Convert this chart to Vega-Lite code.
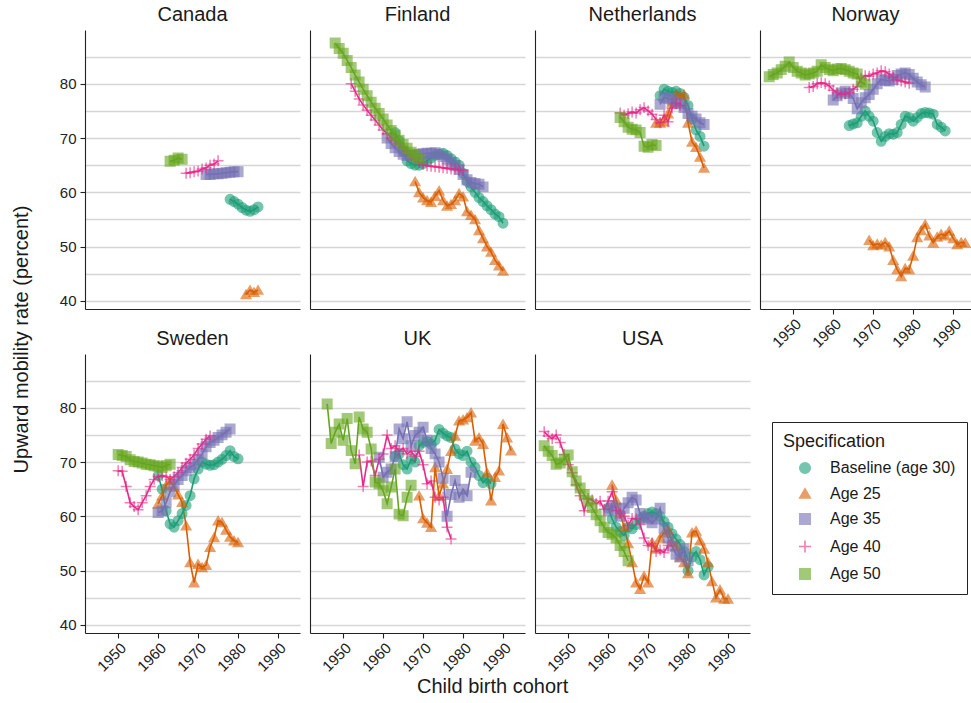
{
"$schema": "https://vega.github.io/schema/vega-lite/v6.json",
"padding": {"left": 12, "top": 5, "right": 0, "bottom": 0},
"title": {"text": "Child birth cohort", "orient": "bottom", "anchor": "middle", "fontSize": 20, "fontWeight": "normal", "color": "#1a1a1a", "offset": 3},
"data": {"values": [
{"country":"Canada","spec":"Baseline (age 30)","year":1978,"rate":58.7},
{"country":"Canada","spec":"Baseline (age 30)","year":1979,"rate":58.3},
{"country":"Canada","spec":"Baseline (age 30)","year":1980,"rate":57.8},
{"country":"Canada","spec":"Baseline (age 30)","year":1981,"rate":57.2},
{"country":"Canada","spec":"Baseline (age 30)","year":1982,"rate":56.7},
{"country":"Canada","spec":"Baseline (age 30)","year":1983,"rate":56.5},
{"country":"Canada","spec":"Baseline (age 30)","year":1984,"rate":56.8},
{"country":"Canada","spec":"Baseline (age 30)","year":1985,"rate":57.3},
{"country":"Canada","spec":"Age 25","year":1982,"rate":41.2},
{"country":"Canada","spec":"Age 25","year":1983,"rate":42.0},
{"country":"Canada","spec":"Age 25","year":1984,"rate":41.6},
{"country":"Canada","spec":"Age 25","year":1985,"rate":42.0},
{"country":"Canada","spec":"Age 35","year":1972,"rate":63.3},
{"country":"Canada","spec":"Age 35","year":1973,"rate":63.3},
{"country":"Canada","spec":"Age 35","year":1974,"rate":63.4},
{"country":"Canada","spec":"Age 35","year":1975,"rate":63.4},
{"country":"Canada","spec":"Age 35","year":1976,"rate":63.5},
{"country":"Canada","spec":"Age 35","year":1977,"rate":63.6},
{"country":"Canada","spec":"Age 35","year":1978,"rate":63.7},
{"country":"Canada","spec":"Age 35","year":1979,"rate":63.8},
{"country":"Canada","spec":"Age 35","year":1980,"rate":63.8},
{"country":"Canada","spec":"Age 40","year":1967,"rate":63.5},
{"country":"Canada","spec":"Age 40","year":1968,"rate":63.6},
{"country":"Canada","spec":"Age 40","year":1969,"rate":63.8},
{"country":"Canada","spec":"Age 40","year":1970,"rate":63.9},
{"country":"Canada","spec":"Age 40","year":1971,"rate":64.3},
{"country":"Canada","spec":"Age 40","year":1972,"rate":64.5},
{"country":"Canada","spec":"Age 40","year":1973,"rate":65.0},
{"country":"Canada","spec":"Age 40","year":1974,"rate":65.2},
{"country":"Canada","spec":"Age 40","year":1975,"rate":65.8},
{"country":"Canada","spec":"Age 50","year":1963,"rate":65.7},
{"country":"Canada","spec":"Age 50","year":1964,"rate":65.9},
{"country":"Canada","spec":"Age 50","year":1965,"rate":66.3},
{"country":"Canada","spec":"Age 50","year":1966,"rate":66.1},

{"country":"Finland","spec":"Baseline (age 30)","year":1963,"rate":71.0},
{"country":"Finland","spec":"Baseline (age 30)","year":1964,"rate":69.5},
{"country":"Finland","spec":"Baseline (age 30)","year":1965,"rate":67.5},
{"country":"Finland","spec":"Baseline (age 30)","year":1966,"rate":65.8},
{"country":"Finland","spec":"Baseline (age 30)","year":1967,"rate":65.3},
{"country":"Finland","spec":"Baseline (age 30)","year":1968,"rate":65.0},
{"country":"Finland","spec":"Baseline (age 30)","year":1969,"rate":65.0},
{"country":"Finland","spec":"Baseline (age 30)","year":1970,"rate":65.3},
{"country":"Finland","spec":"Baseline (age 30)","year":1971,"rate":65.8},
{"country":"Finland","spec":"Baseline (age 30)","year":1972,"rate":66.3},
{"country":"Finland","spec":"Baseline (age 30)","year":1973,"rate":66.8},
{"country":"Finland","spec":"Baseline (age 30)","year":1974,"rate":67.0},
{"country":"Finland","spec":"Baseline (age 30)","year":1975,"rate":67.2},
{"country":"Finland","spec":"Baseline (age 30)","year":1976,"rate":66.8},
{"country":"Finland","spec":"Baseline (age 30)","year":1977,"rate":66.2},
{"country":"Finland","spec":"Baseline (age 30)","year":1978,"rate":65.6},
{"country":"Finland","spec":"Baseline (age 30)","year":1979,"rate":65.0},
{"country":"Finland","spec":"Baseline (age 30)","year":1980,"rate":63.5},
{"country":"Finland","spec":"Baseline (age 30)","year":1981,"rate":62.0},
{"country":"Finland","spec":"Baseline (age 30)","year":1982,"rate":61.0},
{"country":"Finland","spec":"Baseline (age 30)","year":1983,"rate":60.0},
{"country":"Finland","spec":"Baseline (age 30)","year":1984,"rate":59.0},
{"country":"Finland","spec":"Baseline (age 30)","year":1985,"rate":58.3},
{"country":"Finland","spec":"Baseline (age 30)","year":1986,"rate":57.5},
{"country":"Finland","spec":"Baseline (age 30)","year":1987,"rate":56.8},
{"country":"Finland","spec":"Baseline (age 30)","year":1988,"rate":56.0},
{"country":"Finland","spec":"Baseline (age 30)","year":1989,"rate":55.5},
{"country":"Finland","spec":"Baseline (age 30)","year":1990,"rate":54.3},
{"country":"Finland","spec":"Age 25","year":1968,"rate":62.0},
{"country":"Finland","spec":"Age 25","year":1969,"rate":60.0},
{"country":"Finland","spec":"Age 25","year":1970,"rate":59.0},
{"country":"Finland","spec":"Age 25","year":1971,"rate":58.5},
{"country":"Finland","spec":"Age 25","year":1972,"rate":58.2},
{"country":"Finland","spec":"Age 25","year":1973,"rate":59.3},
{"country":"Finland","spec":"Age 25","year":1974,"rate":60.3},
{"country":"Finland","spec":"Age 25","year":1975,"rate":58.5},
{"country":"Finland","spec":"Age 25","year":1976,"rate":57.5},
{"country":"Finland","spec":"Age 25","year":1977,"rate":57.8},
{"country":"Finland","spec":"Age 25","year":1978,"rate":58.5},
{"country":"Finland","spec":"Age 25","year":1979,"rate":59.8},
{"country":"Finland","spec":"Age 25","year":1980,"rate":59.2},
{"country":"Finland","spec":"Age 25","year":1981,"rate":56.5},
{"country":"Finland","spec":"Age 25","year":1982,"rate":55.8},
{"country":"Finland","spec":"Age 25","year":1983,"rate":55.0},
{"country":"Finland","spec":"Age 25","year":1984,"rate":53.0},
{"country":"Finland","spec":"Age 25","year":1985,"rate":51.5},
{"country":"Finland","spec":"Age 25","year":1986,"rate":50.0},
{"country":"Finland","spec":"Age 25","year":1987,"rate":49.0},
{"country":"Finland","spec":"Age 25","year":1988,"rate":47.5},
{"country":"Finland","spec":"Age 25","year":1989,"rate":46.5},
{"country":"Finland","spec":"Age 25","year":1990,"rate":45.5},
{"country":"Finland","spec":"Age 35","year":1961,"rate":70.0},
{"country":"Finland","spec":"Age 35","year":1962,"rate":69.0},
{"country":"Finland","spec":"Age 35","year":1963,"rate":68.2},
{"country":"Finland","spec":"Age 35","year":1964,"rate":67.5},
{"country":"Finland","spec":"Age 35","year":1965,"rate":67.0},
{"country":"Finland","spec":"Age 35","year":1966,"rate":66.8},
{"country":"Finland","spec":"Age 35","year":1967,"rate":66.8},
{"country":"Finland","spec":"Age 35","year":1968,"rate":66.9},
{"country":"Finland","spec":"Age 35","year":1969,"rate":67.0},
{"country":"Finland","spec":"Age 35","year":1970,"rate":67.1},
{"country":"Finland","spec":"Age 35","year":1971,"rate":67.2},
{"country":"Finland","spec":"Age 35","year":1972,"rate":67.2},
{"country":"Finland","spec":"Age 35","year":1973,"rate":67.3},
{"country":"Finland","spec":"Age 35","year":1974,"rate":67.0},
{"country":"Finland","spec":"Age 35","year":1975,"rate":66.6},
{"country":"Finland","spec":"Age 35","year":1976,"rate":66.1},
{"country":"Finland","spec":"Age 35","year":1977,"rate":65.5},
{"country":"Finland","spec":"Age 35","year":1978,"rate":64.9},
{"country":"Finland","spec":"Age 35","year":1979,"rate":64.2},
{"country":"Finland","spec":"Age 35","year":1980,"rate":63.3},
{"country":"Finland","spec":"Age 35","year":1981,"rate":62.3},
{"country":"Finland","spec":"Age 35","year":1982,"rate":61.8},
{"country":"Finland","spec":"Age 35","year":1983,"rate":61.6},
{"country":"Finland","spec":"Age 35","year":1984,"rate":61.5},
{"country":"Finland","spec":"Age 35","year":1985,"rate":61.0},
{"country":"Finland","spec":"Age 40","year":1952,"rate":80.0},
{"country":"Finland","spec":"Age 40","year":1953,"rate":78.6},
{"country":"Finland","spec":"Age 40","year":1954,"rate":77.2},
{"country":"Finland","spec":"Age 40","year":1955,"rate":76.1},
{"country":"Finland","spec":"Age 40","year":1956,"rate":75.1},
{"country":"Finland","spec":"Age 40","year":1957,"rate":74.2},
{"country":"Finland","spec":"Age 40","year":1958,"rate":73.3},
{"country":"Finland","spec":"Age 40","year":1959,"rate":72.4},
{"country":"Finland","spec":"Age 40","year":1960,"rate":71.5},
{"country":"Finland","spec":"Age 40","year":1961,"rate":70.8},
{"country":"Finland","spec":"Age 40","year":1962,"rate":70.1},
{"country":"Finland","spec":"Age 40","year":1963,"rate":69.5},
{"country":"Finland","spec":"Age 40","year":1964,"rate":68.9},
{"country":"Finland","spec":"Age 40","year":1965,"rate":68.3},
{"country":"Finland","spec":"Age 40","year":1966,"rate":67.6},
{"country":"Finland","spec":"Age 40","year":1967,"rate":66.8},
{"country":"Finland","spec":"Age 40","year":1968,"rate":66.1},
{"country":"Finland","spec":"Age 40","year":1969,"rate":65.5},
{"country":"Finland","spec":"Age 40","year":1970,"rate":65.1},
{"country":"Finland","spec":"Age 40","year":1971,"rate":64.9},
{"country":"Finland","spec":"Age 40","year":1972,"rate":64.8},
{"country":"Finland","spec":"Age 40","year":1973,"rate":64.7},
{"country":"Finland","spec":"Age 40","year":1974,"rate":64.6},
{"country":"Finland","spec":"Age 40","year":1975,"rate":64.5},
{"country":"Finland","spec":"Age 40","year":1976,"rate":64.4},
{"country":"Finland","spec":"Age 40","year":1977,"rate":64.3},
{"country":"Finland","spec":"Age 40","year":1978,"rate":64.3},
{"country":"Finland","spec":"Age 40","year":1979,"rate":64.1},
{"country":"Finland","spec":"Age 40","year":1980,"rate":64.0},
{"country":"Finland","spec":"Age 50","year":1948,"rate":87.5},
{"country":"Finland","spec":"Age 50","year":1949,"rate":86.5},
{"country":"Finland","spec":"Age 50","year":1950,"rate":85.6},
{"country":"Finland","spec":"Age 50","year":1951,"rate":84.3},
{"country":"Finland","spec":"Age 50","year":1952,"rate":83.0},
{"country":"Finland","spec":"Age 50","year":1953,"rate":81.6},
{"country":"Finland","spec":"Age 50","year":1954,"rate":80.3},
{"country":"Finland","spec":"Age 50","year":1955,"rate":79.0},
{"country":"Finland","spec":"Age 50","year":1956,"rate":77.8},
{"country":"Finland","spec":"Age 50","year":1957,"rate":76.6},
{"country":"Finland","spec":"Age 50","year":1958,"rate":75.5},
{"country":"Finland","spec":"Age 50","year":1959,"rate":74.5},
{"country":"Finland","spec":"Age 50","year":1960,"rate":73.5},
{"country":"Finland","spec":"Age 50","year":1961,"rate":72.4},
{"country":"Finland","spec":"Age 50","year":1962,"rate":71.4},
{"country":"Finland","spec":"Age 50","year":1963,"rate":70.5},
{"country":"Finland","spec":"Age 50","year":1964,"rate":69.6},
{"country":"Finland","spec":"Age 50","year":1965,"rate":68.8},
{"country":"Finland","spec":"Age 50","year":1966,"rate":68.1},
{"country":"Finland","spec":"Age 50","year":1967,"rate":67.4},
{"country":"Finland","spec":"Age 50","year":1968,"rate":66.8},
{"country":"Finland","spec":"Age 50","year":1969,"rate":66.2},

{"country":"Netherlands","spec":"Baseline (age 30)","year":1973,"rate":77.8},
{"country":"Netherlands","spec":"Baseline (age 30)","year":1974,"rate":79.0},
{"country":"Netherlands","spec":"Baseline (age 30)","year":1975,"rate":78.6},
{"country":"Netherlands","spec":"Baseline (age 30)","year":1976,"rate":78.4},
{"country":"Netherlands","spec":"Baseline (age 30)","year":1977,"rate":78.6},
{"country":"Netherlands","spec":"Baseline (age 30)","year":1978,"rate":78.2},
{"country":"Netherlands","spec":"Baseline (age 30)","year":1979,"rate":77.5},
{"country":"Netherlands","spec":"Baseline (age 30)","year":1980,"rate":76.0},
{"country":"Netherlands","spec":"Baseline (age 30)","year":1981,"rate":73.5},
{"country":"Netherlands","spec":"Baseline (age 30)","year":1982,"rate":71.5},
{"country":"Netherlands","spec":"Baseline (age 30)","year":1983,"rate":70.3},
{"country":"Netherlands","spec":"Baseline (age 30)","year":1984,"rate":68.5},
{"country":"Netherlands","spec":"Age 25","year":1972,"rate":72.8},
{"country":"Netherlands","spec":"Age 25","year":1973,"rate":72.8},
{"country":"Netherlands","spec":"Age 25","year":1974,"rate":73.0},
{"country":"Netherlands","spec":"Age 25","year":1975,"rate":74.5},
{"country":"Netherlands","spec":"Age 25","year":1976,"rate":76.5},
{"country":"Netherlands","spec":"Age 25","year":1977,"rate":78.0},
{"country":"Netherlands","spec":"Age 25","year":1978,"rate":77.8},
{"country":"Netherlands","spec":"Age 25","year":1979,"rate":78.0},
{"country":"Netherlands","spec":"Age 25","year":1980,"rate":72.8},
{"country":"Netherlands","spec":"Age 25","year":1981,"rate":69.3},
{"country":"Netherlands","spec":"Age 25","year":1982,"rate":68.3},
{"country":"Netherlands","spec":"Age 25","year":1983,"rate":66.5},
{"country":"Netherlands","spec":"Age 25","year":1984,"rate":64.5},
{"country":"Netherlands","spec":"Age 35","year":1973,"rate":76.2},
{"country":"Netherlands","spec":"Age 35","year":1974,"rate":77.5},
{"country":"Netherlands","spec":"Age 35","year":1975,"rate":77.3},
{"country":"Netherlands","spec":"Age 35","year":1976,"rate":77.0},
{"country":"Netherlands","spec":"Age 35","year":1977,"rate":76.5},
{"country":"Netherlands","spec":"Age 35","year":1978,"rate":76.3},
{"country":"Netherlands","spec":"Age 35","year":1979,"rate":75.6},
{"country":"Netherlands","spec":"Age 35","year":1980,"rate":74.5},
{"country":"Netherlands","spec":"Age 35","year":1981,"rate":74.0},
{"country":"Netherlands","spec":"Age 35","year":1982,"rate":73.5},
{"country":"Netherlands","spec":"Age 35","year":1983,"rate":72.8},
{"country":"Netherlands","spec":"Age 35","year":1984,"rate":72.5},
{"country":"Netherlands","spec":"Age 40","year":1963,"rate":74.6},
{"country":"Netherlands","spec":"Age 40","year":1964,"rate":74.2},
{"country":"Netherlands","spec":"Age 40","year":1965,"rate":74.5},
{"country":"Netherlands","spec":"Age 40","year":1966,"rate":74.8},
{"country":"Netherlands","spec":"Age 40","year":1967,"rate":74.6},
{"country":"Netherlands","spec":"Age 40","year":1968,"rate":75.2},
{"country":"Netherlands","spec":"Age 40","year":1969,"rate":75.6},
{"country":"Netherlands","spec":"Age 40","year":1970,"rate":75.0},
{"country":"Netherlands","spec":"Age 40","year":1971,"rate":74.4},
{"country":"Netherlands","spec":"Age 40","year":1972,"rate":73.4},
{"country":"Netherlands","spec":"Age 40","year":1973,"rate":72.8},
{"country":"Netherlands","spec":"Age 40","year":1974,"rate":74.2},
{"country":"Netherlands","spec":"Age 40","year":1975,"rate":73.0},
{"country":"Netherlands","spec":"Age 40","year":1976,"rate":75.5},
{"country":"Netherlands","spec":"Age 40","year":1977,"rate":76.4},
{"country":"Netherlands","spec":"Age 40","year":1978,"rate":76.0},
{"country":"Netherlands","spec":"Age 50","year":1963,"rate":73.8},
{"country":"Netherlands","spec":"Age 50","year":1964,"rate":73.0},
{"country":"Netherlands","spec":"Age 50","year":1965,"rate":72.0},
{"country":"Netherlands","spec":"Age 50","year":1966,"rate":71.6},
{"country":"Netherlands","spec":"Age 50","year":1967,"rate":71.5},
{"country":"Netherlands","spec":"Age 50","year":1968,"rate":71.0},
{"country":"Netherlands","spec":"Age 50","year":1969,"rate":68.5},
{"country":"Netherlands","spec":"Age 50","year":1970,"rate":68.3},
{"country":"Netherlands","spec":"Age 50","year":1971,"rate":68.8},
{"country":"Netherlands","spec":"Age 50","year":1972,"rate":68.6},

{"country":"Norway","spec":"Baseline (age 30)","year":1964,"rate":72.3},
{"country":"Norway","spec":"Baseline (age 30)","year":1965,"rate":72.6},
{"country":"Norway","spec":"Baseline (age 30)","year":1966,"rate":72.8},
{"country":"Norway","spec":"Baseline (age 30)","year":1967,"rate":74.0},
{"country":"Norway","spec":"Baseline (age 30)","year":1968,"rate":75.0},
{"country":"Norway","spec":"Baseline (age 30)","year":1969,"rate":74.0},
{"country":"Norway","spec":"Baseline (age 30)","year":1970,"rate":73.1},
{"country":"Norway","spec":"Baseline (age 30)","year":1971,"rate":71.0},
{"country":"Norway","spec":"Baseline (age 30)","year":1972,"rate":69.4},
{"country":"Norway","spec":"Baseline (age 30)","year":1973,"rate":70.3},
{"country":"Norway","spec":"Baseline (age 30)","year":1974,"rate":70.8},
{"country":"Norway","spec":"Baseline (age 30)","year":1975,"rate":70.7},
{"country":"Norway","spec":"Baseline (age 30)","year":1976,"rate":71.0},
{"country":"Norway","spec":"Baseline (age 30)","year":1977,"rate":72.5},
{"country":"Norway","spec":"Baseline (age 30)","year":1978,"rate":74.0},
{"country":"Norway","spec":"Baseline (age 30)","year":1979,"rate":73.8},
{"country":"Norway","spec":"Baseline (age 30)","year":1980,"rate":73.1},
{"country":"Norway","spec":"Baseline (age 30)","year":1981,"rate":73.8},
{"country":"Norway","spec":"Baseline (age 30)","year":1982,"rate":74.5},
{"country":"Norway","spec":"Baseline (age 30)","year":1983,"rate":74.7},
{"country":"Norway","spec":"Baseline (age 30)","year":1984,"rate":74.6},
{"country":"Norway","spec":"Baseline (age 30)","year":1985,"rate":74.4},
{"country":"Norway","spec":"Baseline (age 30)","year":1986,"rate":72.5},
{"country":"Norway","spec":"Baseline (age 30)","year":1987,"rate":72.0},
{"country":"Norway","spec":"Baseline (age 30)","year":1988,"rate":71.3},
{"country":"Norway","spec":"Age 25","year":1969,"rate":51.2},
{"country":"Norway","spec":"Age 25","year":1970,"rate":50.2},
{"country":"Norway","spec":"Age 25","year":1971,"rate":50.5},
{"country":"Norway","spec":"Age 25","year":1972,"rate":50.3},
{"country":"Norway","spec":"Age 25","year":1973,"rate":50.8},
{"country":"Norway","spec":"Age 25","year":1974,"rate":50.0},
{"country":"Norway","spec":"Age 25","year":1975,"rate":47.5},
{"country":"Norway","spec":"Age 25","year":1976,"rate":45.8},
{"country":"Norway","spec":"Age 25","year":1977,"rate":44.5},
{"country":"Norway","spec":"Age 25","year":1978,"rate":46.0},
{"country":"Norway","spec":"Age 25","year":1979,"rate":45.8},
{"country":"Norway","spec":"Age 25","year":1980,"rate":48.3},
{"country":"Norway","spec":"Age 25","year":1981,"rate":51.7},
{"country":"Norway","spec":"Age 25","year":1982,"rate":53.0},
{"country":"Norway","spec":"Age 25","year":1983,"rate":54.1},
{"country":"Norway","spec":"Age 25","year":1984,"rate":52.0},
{"country":"Norway","spec":"Age 25","year":1985,"rate":50.7},
{"country":"Norway","spec":"Age 25","year":1986,"rate":51.8},
{"country":"Norway","spec":"Age 25","year":1987,"rate":52.3},
{"country":"Norway","spec":"Age 25","year":1988,"rate":52.0},
{"country":"Norway","spec":"Age 25","year":1989,"rate":52.9},
{"country":"Norway","spec":"Age 25","year":1990,"rate":51.5},
{"country":"Norway","spec":"Age 25","year":1991,"rate":50.4},
{"country":"Norway","spec":"Age 25","year":1992,"rate":50.8},
{"country":"Norway","spec":"Age 25","year":1993,"rate":50.7},
{"country":"Norway","spec":"Age 35","year":1960,"rate":77.0},
{"country":"Norway","spec":"Age 35","year":1961,"rate":77.8},
{"country":"Norway","spec":"Age 35","year":1962,"rate":78.3},
{"country":"Norway","spec":"Age 35","year":1963,"rate":78.6},
{"country":"Norway","spec":"Age 35","year":1964,"rate":78.2},
{"country":"Norway","spec":"Age 35","year":1965,"rate":77.3},
{"country":"Norway","spec":"Age 35","year":1966,"rate":75.4},
{"country":"Norway","spec":"Age 35","year":1967,"rate":76.5},
{"country":"Norway","spec":"Age 35","year":1968,"rate":77.4},
{"country":"Norway","spec":"Age 35","year":1969,"rate":78.0},
{"country":"Norway","spec":"Age 35","year":1970,"rate":79.0},
{"country":"Norway","spec":"Age 35","year":1971,"rate":80.0},
{"country":"Norway","spec":"Age 35","year":1972,"rate":80.8},
{"country":"Norway","spec":"Age 35","year":1973,"rate":80.6},
{"country":"Norway","spec":"Age 35","year":1974,"rate":80.5},
{"country":"Norway","spec":"Age 35","year":1975,"rate":80.8},
{"country":"Norway","spec":"Age 35","year":1976,"rate":81.5},
{"country":"Norway","spec":"Age 35","year":1977,"rate":81.8},
{"country":"Norway","spec":"Age 35","year":1978,"rate":82.0},
{"country":"Norway","spec":"Age 35","year":1979,"rate":81.7},
{"country":"Norway","spec":"Age 35","year":1980,"rate":81.0},
{"country":"Norway","spec":"Age 35","year":1981,"rate":80.3},
{"country":"Norway","spec":"Age 35","year":1982,"rate":79.8},
{"country":"Norway","spec":"Age 35","year":1983,"rate":79.4},
{"country":"Norway","spec":"Age 40","year":1954,"rate":79.3},
{"country":"Norway","spec":"Age 40","year":1955,"rate":79.5},
{"country":"Norway","spec":"Age 40","year":1956,"rate":80.0},
{"country":"Norway","spec":"Age 40","year":1957,"rate":80.2},
{"country":"Norway","spec":"Age 40","year":1958,"rate":80.0},
{"country":"Norway","spec":"Age 40","year":1959,"rate":79.6},
{"country":"Norway","spec":"Age 40","year":1960,"rate":78.8},
{"country":"Norway","spec":"Age 40","year":1961,"rate":78.3},
{"country":"Norway","spec":"Age 40","year":1962,"rate":78.0},
{"country":"Norway","spec":"Age 40","year":1963,"rate":78.1},
{"country":"Norway","spec":"Age 40","year":1964,"rate":78.4},
{"country":"Norway","spec":"Age 40","year":1965,"rate":79.0},
{"country":"Norway","spec":"Age 40","year":1966,"rate":79.5},
{"country":"Norway","spec":"Age 40","year":1967,"rate":81.0},
{"country":"Norway","spec":"Age 40","year":1968,"rate":81.5},
{"country":"Norway","spec":"Age 40","year":1969,"rate":81.4},
{"country":"Norway","spec":"Age 40","year":1970,"rate":81.8},
{"country":"Norway","spec":"Age 40","year":1971,"rate":82.0},
{"country":"Norway","spec":"Age 40","year":1972,"rate":82.4},
{"country":"Norway","spec":"Age 40","year":1973,"rate":82.2},
{"country":"Norway","spec":"Age 40","year":1974,"rate":81.8},
{"country":"Norway","spec":"Age 40","year":1975,"rate":81.2},
{"country":"Norway","spec":"Age 40","year":1976,"rate":80.7},
{"country":"Norway","spec":"Age 40","year":1977,"rate":80.5},
{"country":"Norway","spec":"Age 40","year":1978,"rate":80.3},
{"country":"Norway","spec":"Age 40","year":1979,"rate":80.1},
{"country":"Norway","spec":"Age 50","year":1944,"rate":81.3},
{"country":"Norway","spec":"Age 50","year":1945,"rate":81.7},
{"country":"Norway","spec":"Age 50","year":1946,"rate":82.0},
{"country":"Norway","spec":"Age 50","year":1947,"rate":82.6},
{"country":"Norway","spec":"Age 50","year":1948,"rate":83.2},
{"country":"Norway","spec":"Age 50","year":1949,"rate":84.0},
{"country":"Norway","spec":"Age 50","year":1950,"rate":83.0},
{"country":"Norway","spec":"Age 50","year":1951,"rate":82.3},
{"country":"Norway","spec":"Age 50","year":1952,"rate":82.0},
{"country":"Norway","spec":"Age 50","year":1953,"rate":81.6},
{"country":"Norway","spec":"Age 50","year":1954,"rate":81.8},
{"country":"Norway","spec":"Age 50","year":1955,"rate":82.0},
{"country":"Norway","spec":"Age 50","year":1956,"rate":82.3},
{"country":"Norway","spec":"Age 50","year":1957,"rate":83.5},
{"country":"Norway","spec":"Age 50","year":1958,"rate":83.0},
{"country":"Norway","spec":"Age 50","year":1959,"rate":82.6},
{"country":"Norway","spec":"Age 50","year":1960,"rate":82.4},
{"country":"Norway","spec":"Age 50","year":1961,"rate":82.7},
{"country":"Norway","spec":"Age 50","year":1962,"rate":82.8},
{"country":"Norway","spec":"Age 50","year":1963,"rate":82.6},
{"country":"Norway","spec":"Age 50","year":1964,"rate":82.3},
{"country":"Norway","spec":"Age 50","year":1965,"rate":82.0},
{"country":"Norway","spec":"Age 50","year":1966,"rate":81.8},
{"country":"Norway","spec":"Age 50","year":1967,"rate":80.3},
{"country":"Norway","spec":"Age 50","year":1968,"rate":79.9},

{"country":"Sweden","spec":"Baseline (age 30)","year":1960,"rate":67.5},
{"country":"Sweden","spec":"Baseline (age 30)","year":1961,"rate":65.0},
{"country":"Sweden","spec":"Baseline (age 30)","year":1962,"rate":61.0},
{"country":"Sweden","spec":"Baseline (age 30)","year":1963,"rate":58.6},
{"country":"Sweden","spec":"Baseline (age 30)","year":1964,"rate":58.0},
{"country":"Sweden","spec":"Baseline (age 30)","year":1965,"rate":59.2},
{"country":"Sweden","spec":"Baseline (age 30)","year":1966,"rate":60.5},
{"country":"Sweden","spec":"Baseline (age 30)","year":1967,"rate":62.0},
{"country":"Sweden","spec":"Baseline (age 30)","year":1968,"rate":63.8},
{"country":"Sweden","spec":"Baseline (age 30)","year":1969,"rate":66.9},
{"country":"Sweden","spec":"Baseline (age 30)","year":1970,"rate":68.7},
{"country":"Sweden","spec":"Baseline (age 30)","year":1971,"rate":70.0},
{"country":"Sweden","spec":"Baseline (age 30)","year":1972,"rate":69.6},
{"country":"Sweden","spec":"Baseline (age 30)","year":1973,"rate":69.4},
{"country":"Sweden","spec":"Baseline (age 30)","year":1974,"rate":69.5},
{"country":"Sweden","spec":"Baseline (age 30)","year":1975,"rate":70.0},
{"country":"Sweden","spec":"Baseline (age 30)","year":1976,"rate":70.5},
{"country":"Sweden","spec":"Baseline (age 30)","year":1977,"rate":71.2},
{"country":"Sweden","spec":"Baseline (age 30)","year":1978,"rate":72.1},
{"country":"Sweden","spec":"Baseline (age 30)","year":1979,"rate":71.0},
{"country":"Sweden","spec":"Baseline (age 30)","year":1980,"rate":70.6},
{"country":"Sweden","spec":"Age 25","year":1960,"rate":62.3},
{"country":"Sweden","spec":"Age 25","year":1961,"rate":63.8},
{"country":"Sweden","spec":"Age 25","year":1962,"rate":65.7},
{"country":"Sweden","spec":"Age 25","year":1963,"rate":66.6},
{"country":"Sweden","spec":"Age 25","year":1964,"rate":65.4},
{"country":"Sweden","spec":"Age 25","year":1965,"rate":64.0},
{"country":"Sweden","spec":"Age 25","year":1966,"rate":62.6},
{"country":"Sweden","spec":"Age 25","year":1967,"rate":58.3},
{"country":"Sweden","spec":"Age 25","year":1968,"rate":51.5},
{"country":"Sweden","spec":"Age 25","year":1969,"rate":47.8},
{"country":"Sweden","spec":"Age 25","year":1970,"rate":51.2},
{"country":"Sweden","spec":"Age 25","year":1971,"rate":50.6},
{"country":"Sweden","spec":"Age 25","year":1972,"rate":51.0},
{"country":"Sweden","spec":"Age 25","year":1973,"rate":54.3},
{"country":"Sweden","spec":"Age 25","year":1974,"rate":56.1},
{"country":"Sweden","spec":"Age 25","year":1975,"rate":59.2},
{"country":"Sweden","spec":"Age 25","year":1976,"rate":58.9},
{"country":"Sweden","spec":"Age 25","year":1977,"rate":57.5},
{"country":"Sweden","spec":"Age 25","year":1978,"rate":56.2},
{"country":"Sweden","spec":"Age 25","year":1979,"rate":55.5},
{"country":"Sweden","spec":"Age 25","year":1980,"rate":55.2},
{"country":"Sweden","spec":"Age 35","year":1960,"rate":60.7},
{"country":"Sweden","spec":"Age 35","year":1961,"rate":61.0},
{"country":"Sweden","spec":"Age 35","year":1962,"rate":62.5},
{"country":"Sweden","spec":"Age 35","year":1963,"rate":64.5},
{"country":"Sweden","spec":"Age 35","year":1964,"rate":65.8},
{"country":"Sweden","spec":"Age 35","year":1965,"rate":66.8},
{"country":"Sweden","spec":"Age 35","year":1966,"rate":67.5},
{"country":"Sweden","spec":"Age 35","year":1967,"rate":68.4},
{"country":"Sweden","spec":"Age 35","year":1968,"rate":69.0},
{"country":"Sweden","spec":"Age 35","year":1969,"rate":69.5},
{"country":"Sweden","spec":"Age 35","year":1970,"rate":70.5},
{"country":"Sweden","spec":"Age 35","year":1971,"rate":71.5},
{"country":"Sweden","spec":"Age 35","year":1972,"rate":72.8},
{"country":"Sweden","spec":"Age 35","year":1973,"rate":73.6},
{"country":"Sweden","spec":"Age 35","year":1974,"rate":74.0},
{"country":"Sweden","spec":"Age 35","year":1975,"rate":74.5},
{"country":"Sweden","spec":"Age 35","year":1976,"rate":75.0},
{"country":"Sweden","spec":"Age 35","year":1977,"rate":75.5},
{"country":"Sweden","spec":"Age 35","year":1978,"rate":76.1},
{"country":"Sweden","spec":"Age 40","year":1950,"rate":68.4},
{"country":"Sweden","spec":"Age 40","year":1951,"rate":68.3},
{"country":"Sweden","spec":"Age 40","year":1952,"rate":65.5},
{"country":"Sweden","spec":"Age 40","year":1953,"rate":62.5},
{"country":"Sweden","spec":"Age 40","year":1954,"rate":61.8},
{"country":"Sweden","spec":"Age 40","year":1955,"rate":61.2},
{"country":"Sweden","spec":"Age 40","year":1956,"rate":62.5},
{"country":"Sweden","spec":"Age 40","year":1957,"rate":63.8},
{"country":"Sweden","spec":"Age 40","year":1958,"rate":65.5},
{"country":"Sweden","spec":"Age 40","year":1959,"rate":66.8},
{"country":"Sweden","spec":"Age 40","year":1960,"rate":67.3},
{"country":"Sweden","spec":"Age 40","year":1961,"rate":67.5},
{"country":"Sweden","spec":"Age 40","year":1962,"rate":67.3},
{"country":"Sweden","spec":"Age 40","year":1963,"rate":66.8},
{"country":"Sweden","spec":"Age 40","year":1964,"rate":67.3},
{"country":"Sweden","spec":"Age 40","year":1965,"rate":68.0},
{"country":"Sweden","spec":"Age 40","year":1966,"rate":69.0},
{"country":"Sweden","spec":"Age 40","year":1967,"rate":69.8},
{"country":"Sweden","spec":"Age 40","year":1968,"rate":70.5},
{"country":"Sweden","spec":"Age 40","year":1969,"rate":71.3},
{"country":"Sweden","spec":"Age 40","year":1970,"rate":72.5},
{"country":"Sweden","spec":"Age 40","year":1971,"rate":73.3},
{"country":"Sweden","spec":"Age 40","year":1972,"rate":74.2},
{"country":"Sweden","spec":"Age 40","year":1973,"rate":74.8},
{"country":"Sweden","spec":"Age 50","year":1950,"rate":71.4},
{"country":"Sweden","spec":"Age 50","year":1951,"rate":71.2},
{"country":"Sweden","spec":"Age 50","year":1952,"rate":71.0},
{"country":"Sweden","spec":"Age 50","year":1953,"rate":70.4},
{"country":"Sweden","spec":"Age 50","year":1954,"rate":70.1},
{"country":"Sweden","spec":"Age 50","year":1955,"rate":70.0},
{"country":"Sweden","spec":"Age 50","year":1956,"rate":69.8},
{"country":"Sweden","spec":"Age 50","year":1957,"rate":69.6},
{"country":"Sweden","spec":"Age 50","year":1958,"rate":69.5},
{"country":"Sweden","spec":"Age 50","year":1959,"rate":69.3},
{"country":"Sweden","spec":"Age 50","year":1960,"rate":69.2},
{"country":"Sweden","spec":"Age 50","year":1961,"rate":69.0},
{"country":"Sweden","spec":"Age 50","year":1962,"rate":69.3},
{"country":"Sweden","spec":"Age 50","year":1963,"rate":69.6},

{"country":"UK","spec":"Baseline (age 30)","year":1963,"rate":71.0},
{"country":"UK","spec":"Baseline (age 30)","year":1964,"rate":71.5},
{"country":"UK","spec":"Baseline (age 30)","year":1965,"rate":69.5},
{"country":"UK","spec":"Baseline (age 30)","year":1966,"rate":68.7},
{"country":"UK","spec":"Baseline (age 30)","year":1967,"rate":70.5},
{"country":"UK","spec":"Baseline (age 30)","year":1968,"rate":70.0},
{"country":"UK","spec":"Baseline (age 30)","year":1969,"rate":73.0},
{"country":"UK","spec":"Baseline (age 30)","year":1970,"rate":73.6},
{"country":"UK","spec":"Baseline (age 30)","year":1971,"rate":73.8},
{"country":"UK","spec":"Baseline (age 30)","year":1972,"rate":73.3},
{"country":"UK","spec":"Baseline (age 30)","year":1973,"rate":74.0},
{"country":"UK","spec":"Baseline (age 30)","year":1974,"rate":76.0},
{"country":"UK","spec":"Baseline (age 30)","year":1975,"rate":75.3},
{"country":"UK","spec":"Baseline (age 30)","year":1976,"rate":74.8},
{"country":"UK","spec":"Baseline (age 30)","year":1977,"rate":74.5},
{"country":"UK","spec":"Baseline (age 30)","year":1978,"rate":72.4},
{"country":"UK","spec":"Baseline (age 30)","year":1979,"rate":71.5},
{"country":"UK","spec":"Baseline (age 30)","year":1980,"rate":71.2},
{"country":"UK","spec":"Baseline (age 30)","year":1981,"rate":72.0},
{"country":"UK","spec":"Baseline (age 30)","year":1982,"rate":70.0},
{"country":"UK","spec":"Baseline (age 30)","year":1983,"rate":69.0},
{"country":"UK","spec":"Baseline (age 30)","year":1984,"rate":67.5},
{"country":"UK","spec":"Baseline (age 30)","year":1985,"rate":66.2},
{"country":"UK","spec":"Baseline (age 30)","year":1986,"rate":67.0},
{"country":"UK","spec":"Baseline (age 30)","year":1987,"rate":66.0},
{"country":"UK","spec":"Age 25","year":1969,"rate":63.8},
{"country":"UK","spec":"Age 25","year":1970,"rate":59.6},
{"country":"UK","spec":"Age 25","year":1971,"rate":58.8},
{"country":"UK","spec":"Age 25","year":1972,"rate":58.0},
{"country":"UK","spec":"Age 25","year":1973,"rate":69.0},
{"country":"UK","spec":"Age 25","year":1974,"rate":63.8},
{"country":"UK","spec":"Age 25","year":1975,"rate":66.0},
{"country":"UK","spec":"Age 25","year":1976,"rate":68.7},
{"country":"UK","spec":"Age 25","year":1977,"rate":72.0},
{"country":"UK","spec":"Age 25","year":1978,"rate":74.8},
{"country":"UK","spec":"Age 25","year":1979,"rate":77.6},
{"country":"UK","spec":"Age 25","year":1980,"rate":77.8},
{"country":"UK","spec":"Age 25","year":1981,"rate":78.2},
{"country":"UK","spec":"Age 25","year":1982,"rate":79.1},
{"country":"UK","spec":"Age 25","year":1983,"rate":73.9},
{"country":"UK","spec":"Age 25","year":1984,"rate":74.5},
{"country":"UK","spec":"Age 25","year":1985,"rate":73.3},
{"country":"UK","spec":"Age 25","year":1986,"rate":68.0},
{"country":"UK","spec":"Age 25","year":1987,"rate":62.9},
{"country":"UK","spec":"Age 25","year":1988,"rate":67.2},
{"country":"UK","spec":"Age 25","year":1989,"rate":68.4},
{"country":"UK","spec":"Age 25","year":1990,"rate":77.0},
{"country":"UK","spec":"Age 25","year":1991,"rate":74.5},
{"country":"UK","spec":"Age 25","year":1992,"rate":72.1},
{"country":"UK","spec":"Age 35","year":1959,"rate":70.9},
{"country":"UK","spec":"Age 35","year":1960,"rate":67.2},
{"country":"UK","spec":"Age 35","year":1961,"rate":68.1},
{"country":"UK","spec":"Age 35","year":1962,"rate":68.7},
{"country":"UK","spec":"Age 35","year":1963,"rate":71.0},
{"country":"UK","spec":"Age 35","year":1964,"rate":76.1},
{"country":"UK","spec":"Age 35","year":1965,"rate":74.3},
{"country":"UK","spec":"Age 35","year":1966,"rate":77.4},
{"country":"UK","spec":"Age 35","year":1967,"rate":73.0},
{"country":"UK","spec":"Age 35","year":1968,"rate":74.9},
{"country":"UK","spec":"Age 35","year":1969,"rate":75.5},
{"country":"UK","spec":"Age 35","year":1970,"rate":76.4},
{"country":"UK","spec":"Age 35","year":1971,"rate":74.0},
{"country":"UK","spec":"Age 35","year":1972,"rate":72.5},
{"country":"UK","spec":"Age 35","year":1973,"rate":71.5},
{"country":"UK","spec":"Age 35","year":1974,"rate":70.0},
{"country":"UK","spec":"Age 35","year":1975,"rate":67.0},
{"country":"UK","spec":"Age 35","year":1976,"rate":60.0},
{"country":"UK","spec":"Age 35","year":1977,"rate":64.0},
{"country":"UK","spec":"Age 35","year":1978,"rate":66.6},
{"country":"UK","spec":"Age 35","year":1979,"rate":63.5},
{"country":"UK","spec":"Age 35","year":1980,"rate":65.0},
{"country":"UK","spec":"Age 35","year":1981,"rate":63.8},
{"country":"UK","spec":"Age 35","year":1982,"rate":68.1},
{"country":"UK","spec":"Age 40","year":1954,"rate":71.3},
{"country":"UK","spec":"Age 40","year":1955,"rate":65.5},
{"country":"UK","spec":"Age 40","year":1956,"rate":70.0},
{"country":"UK","spec":"Age 40","year":1957,"rate":70.2},
{"country":"UK","spec":"Age 40","year":1958,"rate":67.5},
{"country":"UK","spec":"Age 40","year":1959,"rate":70.5},
{"country":"UK","spec":"Age 40","year":1960,"rate":71.5},
{"country":"UK","spec":"Age 40","year":1961,"rate":75.0},
{"country":"UK","spec":"Age 40","year":1962,"rate":72.5},
{"country":"UK","spec":"Age 40","year":1963,"rate":73.0},
{"country":"UK","spec":"Age 40","year":1964,"rate":72.0},
{"country":"UK","spec":"Age 40","year":1965,"rate":72.5},
{"country":"UK","spec":"Age 40","year":1966,"rate":71.5},
{"country":"UK","spec":"Age 40","year":1967,"rate":72.0},
{"country":"UK","spec":"Age 40","year":1968,"rate":71.0},
{"country":"UK","spec":"Age 40","year":1969,"rate":72.0},
{"country":"UK","spec":"Age 40","year":1970,"rate":69.5},
{"country":"UK","spec":"Age 40","year":1971,"rate":66.0},
{"country":"UK","spec":"Age 40","year":1972,"rate":66.5},
{"country":"UK","spec":"Age 40","year":1973,"rate":63.5},
{"country":"UK","spec":"Age 40","year":1974,"rate":63.0},
{"country":"UK","spec":"Age 40","year":1975,"rate":63.5},
{"country":"UK","spec":"Age 40","year":1976,"rate":58.0},
{"country":"UK","spec":"Age 40","year":1977,"rate":55.8},
{"country":"UK","spec":"Age 50","year":1946,"rate":80.7},
{"country":"UK","spec":"Age 50","year":1947,"rate":73.4},
{"country":"UK","spec":"Age 50","year":1948,"rate":75.5},
{"country":"UK","spec":"Age 50","year":1949,"rate":77.0},
{"country":"UK","spec":"Age 50","year":1950,"rate":74.0},
{"country":"UK","spec":"Age 50","year":1951,"rate":78.0},
{"country":"UK","spec":"Age 50","year":1952,"rate":72.1},
{"country":"UK","spec":"Age 50","year":1953,"rate":69.7},
{"country":"UK","spec":"Age 50","year":1954,"rate":78.3},
{"country":"UK","spec":"Age 50","year":1955,"rate":76.1},
{"country":"UK","spec":"Age 50","year":1956,"rate":75.5},
{"country":"UK","spec":"Age 50","year":1957,"rate":72.4},
{"country":"UK","spec":"Age 50","year":1958,"rate":66.3},
{"country":"UK","spec":"Age 50","year":1959,"rate":66.0},
{"country":"UK","spec":"Age 50","year":1960,"rate":64.7},
{"country":"UK","spec":"Age 50","year":1961,"rate":62.3},
{"country":"UK","spec":"Age 50","year":1962,"rate":65.4},
{"country":"UK","spec":"Age 50","year":1963,"rate":68.7},
{"country":"UK","spec":"Age 50","year":1964,"rate":60.4},
{"country":"UK","spec":"Age 50","year":1965,"rate":60.1},
{"country":"UK","spec":"Age 50","year":1966,"rate":63.5},
{"country":"UK","spec":"Age 50","year":1967,"rate":65.7},

{"country":"USA","spec":"Baseline (age 30)","year":1960,"rate":61.5},
{"country":"USA","spec":"Baseline (age 30)","year":1961,"rate":59.5},
{"country":"USA","spec":"Baseline (age 30)","year":1962,"rate":58.0},
{"country":"USA","spec":"Baseline (age 30)","year":1963,"rate":57.2},
{"country":"USA","spec":"Baseline (age 30)","year":1964,"rate":56.5},
{"country":"USA","spec":"Baseline (age 30)","year":1965,"rate":58.0},
{"country":"USA","spec":"Baseline (age 30)","year":1966,"rate":57.7},
{"country":"USA","spec":"Baseline (age 30)","year":1967,"rate":58.5},
{"country":"USA","spec":"Baseline (age 30)","year":1968,"rate":59.5},
{"country":"USA","spec":"Baseline (age 30)","year":1969,"rate":60.0},
{"country":"USA","spec":"Baseline (age 30)","year":1970,"rate":60.5},
{"country":"USA","spec":"Baseline (age 30)","year":1971,"rate":60.8},
{"country":"USA","spec":"Baseline (age 30)","year":1972,"rate":60.5},
{"country":"USA","spec":"Baseline (age 30)","year":1973,"rate":60.0},
{"country":"USA","spec":"Baseline (age 30)","year":1974,"rate":59.0},
{"country":"USA","spec":"Baseline (age 30)","year":1975,"rate":58.0},
{"country":"USA","spec":"Baseline (age 30)","year":1976,"rate":56.8},
{"country":"USA","spec":"Baseline (age 30)","year":1977,"rate":55.8},
{"country":"USA","spec":"Baseline (age 30)","year":1978,"rate":54.8},
{"country":"USA","spec":"Baseline (age 30)","year":1979,"rate":53.5},
{"country":"USA","spec":"Baseline (age 30)","year":1980,"rate":50.0},
{"country":"USA","spec":"Baseline (age 30)","year":1981,"rate":52.5},
{"country":"USA","spec":"Baseline (age 30)","year":1982,"rate":53.5},
{"country":"USA","spec":"Baseline (age 30)","year":1983,"rate":52.0},
{"country":"USA","spec":"Baseline (age 30)","year":1984,"rate":49.2},
{"country":"USA","spec":"Baseline (age 30)","year":1985,"rate":50.7},
{"country":"USA","spec":"Age 25","year":1961,"rate":65.8},
{"country":"USA","spec":"Age 25","year":1962,"rate":63.0},
{"country":"USA","spec":"Age 25","year":1963,"rate":60.5},
{"country":"USA","spec":"Age 25","year":1964,"rate":58.0},
{"country":"USA","spec":"Age 25","year":1965,"rate":55.0},
{"country":"USA","spec":"Age 25","year":1966,"rate":51.5},
{"country":"USA","spec":"Age 25","year":1967,"rate":47.8},
{"country":"USA","spec":"Age 25","year":1968,"rate":46.6},
{"country":"USA","spec":"Age 25","year":1969,"rate":49.0},
{"country":"USA","spec":"Age 25","year":1970,"rate":47.8},
{"country":"USA","spec":"Age 25","year":1971,"rate":55.2},
{"country":"USA","spec":"Age 25","year":1972,"rate":54.0},
{"country":"USA","spec":"Age 25","year":1973,"rate":56.0},
{"country":"USA","spec":"Age 25","year":1974,"rate":57.0},
{"country":"USA","spec":"Age 25","year":1975,"rate":57.5},
{"country":"USA","spec":"Age 25","year":1976,"rate":55.2},
{"country":"USA","spec":"Age 25","year":1977,"rate":54.5},
{"country":"USA","spec":"Age 25","year":1978,"rate":52.5},
{"country":"USA","spec":"Age 25","year":1979,"rate":51.5},
{"country":"USA","spec":"Age 25","year":1980,"rate":49.5},
{"country":"USA","spec":"Age 25","year":1981,"rate":57.0},
{"country":"USA","spec":"Age 25","year":1982,"rate":57.3},
{"country":"USA","spec":"Age 25","year":1983,"rate":55.5},
{"country":"USA","spec":"Age 25","year":1984,"rate":54.0},
{"country":"USA","spec":"Age 25","year":1985,"rate":51.5},
{"country":"USA","spec":"Age 25","year":1986,"rate":48.0},
{"country":"USA","spec":"Age 25","year":1987,"rate":45.0},
{"country":"USA","spec":"Age 25","year":1988,"rate":46.5},
{"country":"USA","spec":"Age 25","year":1989,"rate":44.8},
{"country":"USA","spec":"Age 25","year":1990,"rate":44.8},
{"country":"USA","spec":"Age 35","year":1960,"rate":61.0},
{"country":"USA","spec":"Age 35","year":1961,"rate":62.0},
{"country":"USA","spec":"Age 35","year":1962,"rate":61.5},
{"country":"USA","spec":"Age 35","year":1963,"rate":60.0},
{"country":"USA","spec":"Age 35","year":1964,"rate":61.5},
{"country":"USA","spec":"Age 35","year":1965,"rate":62.5},
{"country":"USA","spec":"Age 35","year":1966,"rate":63.5},
{"country":"USA","spec":"Age 35","year":1967,"rate":63.0},
{"country":"USA","spec":"Age 35","year":1968,"rate":60.5},
{"country":"USA","spec":"Age 35","year":1969,"rate":59.8},
{"country":"USA","spec":"Age 35","year":1970,"rate":59.5},
{"country":"USA","spec":"Age 35","year":1971,"rate":58.8},
{"country":"USA","spec":"Age 35","year":1972,"rate":59.5},
{"country":"USA","spec":"Age 35","year":1973,"rate":61.5},
{"country":"USA","spec":"Age 35","year":1974,"rate":57.8},
{"country":"USA","spec":"Age 35","year":1975,"rate":56.0},
{"country":"USA","spec":"Age 35","year":1976,"rate":54.5},
{"country":"USA","spec":"Age 35","year":1977,"rate":53.0},
{"country":"USA","spec":"Age 35","year":1978,"rate":52.5},
{"country":"USA","spec":"Age 35","year":1979,"rate":54.0},
{"country":"USA","spec":"Age 35","year":1980,"rate":51.8},
{"country":"USA","spec":"Age 40","year":1944,"rate":75.6},
{"country":"USA","spec":"Age 40","year":1945,"rate":74.8},
{"country":"USA","spec":"Age 40","year":1946,"rate":74.3},
{"country":"USA","spec":"Age 40","year":1947,"rate":75.0},
{"country":"USA","spec":"Age 40","year":1948,"rate":73.6},
{"country":"USA","spec":"Age 40","year":1949,"rate":71.4},
{"country":"USA","spec":"Age 40","year":1950,"rate":69.5},
{"country":"USA","spec":"Age 40","year":1951,"rate":68.0},
{"country":"USA","spec":"Age 40","year":1952,"rate":65.8},
{"country":"USA","spec":"Age 40","year":1953,"rate":63.8},
{"country":"USA","spec":"Age 40","year":1954,"rate":61.0},
{"country":"USA","spec":"Age 40","year":1955,"rate":63.3},
{"country":"USA","spec":"Age 40","year":1956,"rate":63.0},
{"country":"USA","spec":"Age 40","year":1957,"rate":62.3},
{"country":"USA","spec":"Age 40","year":1958,"rate":62.8},
{"country":"USA","spec":"Age 40","year":1959,"rate":61.3},
{"country":"USA","spec":"Age 40","year":1960,"rate":62.8},
{"country":"USA","spec":"Age 40","year":1961,"rate":64.5},
{"country":"USA","spec":"Age 40","year":1962,"rate":61.0},
{"country":"USA","spec":"Age 40","year":1963,"rate":60.5},
{"country":"USA","spec":"Age 40","year":1964,"rate":60.0},
{"country":"USA","spec":"Age 40","year":1965,"rate":58.3},
{"country":"USA","spec":"Age 40","year":1966,"rate":59.6},
{"country":"USA","spec":"Age 40","year":1967,"rate":59.5},
{"country":"USA","spec":"Age 40","year":1968,"rate":58.5},
{"country":"USA","spec":"Age 40","year":1969,"rate":56.0},
{"country":"USA","spec":"Age 40","year":1970,"rate":54.6},
{"country":"USA","spec":"Age 40","year":1971,"rate":55.0},
{"country":"USA","spec":"Age 40","year":1972,"rate":53.5},
{"country":"USA","spec":"Age 40","year":1973,"rate":53.8},
{"country":"USA","spec":"Age 40","year":1974,"rate":53.3},
{"country":"USA","spec":"Age 40","year":1975,"rate":54.6},
{"country":"USA","spec":"Age 50","year":1944,"rate":73.0},
{"country":"USA","spec":"Age 50","year":1945,"rate":72.0},
{"country":"USA","spec":"Age 50","year":1946,"rate":71.2},
{"country":"USA","spec":"Age 50","year":1947,"rate":69.6},
{"country":"USA","spec":"Age 50","year":1948,"rate":69.8},
{"country":"USA","spec":"Age 50","year":1949,"rate":70.5},
{"country":"USA","spec":"Age 50","year":1950,"rate":71.3},
{"country":"USA","spec":"Age 50","year":1951,"rate":68.2},
{"country":"USA","spec":"Age 50","year":1952,"rate":66.5},
{"country":"USA","spec":"Age 50","year":1953,"rate":65.2},
{"country":"USA","spec":"Age 50","year":1954,"rate":64.0},
{"country":"USA","spec":"Age 50","year":1955,"rate":62.8},
{"country":"USA","spec":"Age 50","year":1956,"rate":61.6},
{"country":"USA","spec":"Age 50","year":1957,"rate":60.3},
{"country":"USA","spec":"Age 50","year":1958,"rate":59.2},
{"country":"USA","spec":"Age 50","year":1959,"rate":58.0},
{"country":"USA","spec":"Age 50","year":1960,"rate":57.0},
{"country":"USA","spec":"Age 50","year":1961,"rate":56.7},
{"country":"USA","spec":"Age 50","year":1962,"rate":56.0},
{"country":"USA","spec":"Age 50","year":1963,"rate":54.6},
{"country":"USA","spec":"Age 50","year":1964,"rate":53.5},
{"country":"USA","spec":"Age 50","year":1965,"rate":51.8}
]},
"spacing": 10,
"align": "none",
"hconcat": [
{
"title": {"text": "Upward mobility rate (percent)", "orient": "left", "anchor": "middle", "fontSize": 20, "fontWeight": "normal", "color": "#1a1a1a", "offset": 27},
"spacing": 20, "align": "none",
"vconcat": [
{"title": "Canada", "width": 215, "height": 279,
 "transform": [{"filter": "datum.country === 'Canada'"}],
 "encoding": {
  "x": {"field": "year", "type": "quantitative", "scale": {"domain": [1941.7, 1995.5], "nice": false, "zero": false}, "axis": {"title": null, "grid": false, "labels": false, "ticks": false}},
  "y": {"field": "rate", "type": "quantitative", "scale": {"domain": [38.5, 89.9], "nice": false, "zero": false}, "axis": {"values": [40,45,50,55,60,65,70,75,80,85], "labelExpr": "datum.value % 10 === 0 ? datum.label : ''", "tickOpacity": {"condition": {"test": "datum.value % 10 === 0", "value": 1}, "value": 0}, "title": null, "grid": true, "tickSize": 5, "labelPadding": 4}},
  "color": {"field": "spec", "type": "nominal", "scale": {"domain": ["Baseline (age 30)","Age 25","Age 35","Age 40","Age 50"], "range": ["#1b9e77","#d95f02","#7570b3","#e7298a","#66a61e"]}, "legend": {"title": "Specification", "orient": "none", "legendX": 687, "legendY": 392, "padding": 11, "strokeColor": "#222", "fillColor": "white", "titleFontSize": 18, "titleFontWeight": "normal", "titleColor": "#1a1a1a", "titlePadding": 9, "labelFontSize": 16, "labelColor": "#1a1a1a", "symbolOffset": 14, "labelOffset": 17, "rowPadding": 8.5, "symbolSize": 110, "symbolStrokeWidth": 1.6}}
 },
 "layer": [
  {"mark": {"type": "line", "strokeWidth": 1.6}, "encoding": {}},
  {"mark": {"type": "point", "filled": true, "size": 90, "opacity": 0.6, "strokeWidth": 1.5},
   "encoding": {"shape": {"field": "spec", "type": "nominal", "scale": {"domain": ["Baseline (age 30)","Age 25","Age 35","Age 40","Age 50"], "range": ["circle","triangle-up","square","M-1.15,0H1.15M0,-1.15V1.15","square"]}, "legend": null},
                "stroke": {"field": "spec", "type": "nominal", "scale": {"domain": ["Baseline (age 30)","Age 25","Age 35","Age 40","Age 50"], "range": ["#1b9e77","#d95f02","#7570b3","#e7298a","#66a61e"]}, "legend": null}}}
 ]
},
{"title": "Sweden", "width": 215, "height": 279,
 "transform": [{"filter": "datum.country === 'Sweden'"}],
 "encoding": {
  "x": {"field": "year", "type": "quantitative", "scale": {"domain": [1941.7, 1995.5], "nice": false, "zero": false}, "axis": {"values": [1950,1960,1970,1980,1990], "format": "d", "labelAngle": -45, "title": null, "grid": false, "tickSize": 5, "labelPadding": 2}},
  "y": {"field": "rate", "type": "quantitative", "scale": {"domain": [38.5, 89.9], "nice": false, "zero": false}, "axis": {"values": [40,45,50,55,60,65,70,75,80,85], "labelExpr": "datum.value % 10 === 0 ? datum.label : ''", "tickOpacity": {"condition": {"test": "datum.value % 10 === 0", "value": 1}, "value": 0}, "title": null, "grid": true, "tickSize": 5, "labelPadding": 4}},
  "color": {"field": "spec", "type": "nominal", "scale": {"domain": ["Baseline (age 30)","Age 25","Age 35","Age 40","Age 50"], "range": ["#1b9e77","#d95f02","#7570b3","#e7298a","#66a61e"]}, "legend": {"title": "Specification", "orient": "none", "legendX": 687, "legendY": 392, "padding": 11, "strokeColor": "#222", "fillColor": "white", "titleFontSize": 18, "titleFontWeight": "normal", "titleColor": "#1a1a1a", "titlePadding": 9, "labelFontSize": 16, "labelColor": "#1a1a1a", "symbolOffset": 14, "labelOffset": 17, "rowPadding": 8.5, "symbolSize": 110, "symbolStrokeWidth": 1.6}}
 },
 "layer": [
  {"mark": {"type": "line", "strokeWidth": 1.6}, "encoding": {}},
  {"mark": {"type": "point", "filled": true, "size": 90, "opacity": 0.6, "strokeWidth": 1.5},
   "encoding": {"shape": {"field": "spec", "type": "nominal", "scale": {"domain": ["Baseline (age 30)","Age 25","Age 35","Age 40","Age 50"], "range": ["circle","triangle-up","square","M-1.15,0H1.15M0,-1.15V1.15","square"]}, "legend": null},
                "stroke": {"field": "spec", "type": "nominal", "scale": {"domain": ["Baseline (age 30)","Age 25","Age 35","Age 40","Age 50"], "range": ["#1b9e77","#d95f02","#7570b3","#e7298a","#66a61e"]}, "legend": null}}}
 ]
}
]
},
{
"spacing": 20, "align": "none",
"vconcat": [
{"title": "Finland", "width": 215, "height": 279,
 "transform": [{"filter": "datum.country === 'Finland'"}],
 "encoding": {
  "x": {"field": "year", "type": "quantitative", "scale": {"domain": [1941.7, 1995.5], "nice": false, "zero": false}, "axis": {"title": null, "grid": false, "labels": false, "ticks": false}},
  "y": {"field": "rate", "type": "quantitative", "scale": {"domain": [38.5, 89.9], "nice": false, "zero": false}, "axis": {"values": [40,45,50,55,60,65,70,75,80,85], "title": null, "grid": true, "labels": false, "ticks": false}},
  "color": {"field": "spec", "type": "nominal", "scale": {"domain": ["Baseline (age 30)","Age 25","Age 35","Age 40","Age 50"], "range": ["#1b9e77","#d95f02","#7570b3","#e7298a","#66a61e"]}, "legend": {"title": "Specification", "orient": "none", "legendX": 687, "legendY": 392, "padding": 11, "strokeColor": "#222", "fillColor": "white", "titleFontSize": 18, "titleFontWeight": "normal", "titleColor": "#1a1a1a", "titlePadding": 9, "labelFontSize": 16, "labelColor": "#1a1a1a", "symbolOffset": 14, "labelOffset": 17, "rowPadding": 8.5, "symbolSize": 110, "symbolStrokeWidth": 1.6}}
 },
 "layer": [
  {"mark": {"type": "line", "strokeWidth": 1.6}, "encoding": {}},
  {"mark": {"type": "point", "filled": true, "size": 90, "opacity": 0.6, "strokeWidth": 1.5},
   "encoding": {"shape": {"field": "spec", "type": "nominal", "scale": {"domain": ["Baseline (age 30)","Age 25","Age 35","Age 40","Age 50"], "range": ["circle","triangle-up","square","M-1.15,0H1.15M0,-1.15V1.15","square"]}, "legend": null},
                "stroke": {"field": "spec", "type": "nominal", "scale": {"domain": ["Baseline (age 30)","Age 25","Age 35","Age 40","Age 50"], "range": ["#1b9e77","#d95f02","#7570b3","#e7298a","#66a61e"]}, "legend": null}}}
 ]
},
{"title": "UK", "width": 215, "height": 279,
 "transform": [{"filter": "datum.country === 'UK'"}],
 "encoding": {
  "x": {"field": "year", "type": "quantitative", "scale": {"domain": [1941.7, 1995.5], "nice": false, "zero": false}, "axis": {"values": [1950,1960,1970,1980,1990], "format": "d", "labelAngle": -45, "title": null, "grid": false, "tickSize": 5, "labelPadding": 2}},
  "y": {"field": "rate", "type": "quantitative", "scale": {"domain": [38.5, 89.9], "nice": false, "zero": false}, "axis": {"values": [40,45,50,55,60,65,70,75,80,85], "title": null, "grid": true, "labels": false, "ticks": false}},
  "color": {"field": "spec", "type": "nominal", "scale": {"domain": ["Baseline (age 30)","Age 25","Age 35","Age 40","Age 50"], "range": ["#1b9e77","#d95f02","#7570b3","#e7298a","#66a61e"]}, "legend": {"title": "Specification", "orient": "none", "legendX": 687, "legendY": 392, "padding": 11, "strokeColor": "#222", "fillColor": "white", "titleFontSize": 18, "titleFontWeight": "normal", "titleColor": "#1a1a1a", "titlePadding": 9, "labelFontSize": 16, "labelColor": "#1a1a1a", "symbolOffset": 14, "labelOffset": 17, "rowPadding": 8.5, "symbolSize": 110, "symbolStrokeWidth": 1.6}}
 },
 "layer": [
  {"mark": {"type": "line", "strokeWidth": 1.6}, "encoding": {}},
  {"mark": {"type": "point", "filled": true, "size": 90, "opacity": 0.6, "strokeWidth": 1.5},
   "encoding": {"shape": {"field": "spec", "type": "nominal", "scale": {"domain": ["Baseline (age 30)","Age 25","Age 35","Age 40","Age 50"], "range": ["circle","triangle-up","square","M-1.15,0H1.15M0,-1.15V1.15","square"]}, "legend": null},
                "stroke": {"field": "spec", "type": "nominal", "scale": {"domain": ["Baseline (age 30)","Age 25","Age 35","Age 40","Age 50"], "range": ["#1b9e77","#d95f02","#7570b3","#e7298a","#66a61e"]}, "legend": null}}}
 ]
}
]
},
{
"spacing": 20, "align": "none",
"vconcat": [
{"title": "Netherlands", "width": 215, "height": 279,
 "transform": [{"filter": "datum.country === 'Netherlands'"}],
 "encoding": {
  "x": {"field": "year", "type": "quantitative", "scale": {"domain": [1941.7, 1995.5], "nice": false, "zero": false}, "axis": {"title": null, "grid": false, "labels": false, "ticks": false}},
  "y": {"field": "rate", "type": "quantitative", "scale": {"domain": [38.5, 89.9], "nice": false, "zero": false}, "axis": {"values": [40,45,50,55,60,65,70,75,80,85], "title": null, "grid": true, "labels": false, "ticks": false}},
  "color": {"field": "spec", "type": "nominal", "scale": {"domain": ["Baseline (age 30)","Age 25","Age 35","Age 40","Age 50"], "range": ["#1b9e77","#d95f02","#7570b3","#e7298a","#66a61e"]}, "legend": {"title": "Specification", "orient": "none", "legendX": 687, "legendY": 392, "padding": 11, "strokeColor": "#222", "fillColor": "white", "titleFontSize": 18, "titleFontWeight": "normal", "titleColor": "#1a1a1a", "titlePadding": 9, "labelFontSize": 16, "labelColor": "#1a1a1a", "symbolOffset": 14, "labelOffset": 17, "rowPadding": 8.5, "symbolSize": 110, "symbolStrokeWidth": 1.6}}
 },
 "layer": [
  {"mark": {"type": "line", "strokeWidth": 1.6}, "encoding": {}},
  {"mark": {"type": "point", "filled": true, "size": 90, "opacity": 0.6, "strokeWidth": 1.5},
   "encoding": {"shape": {"field": "spec", "type": "nominal", "scale": {"domain": ["Baseline (age 30)","Age 25","Age 35","Age 40","Age 50"], "range": ["circle","triangle-up","square","M-1.15,0H1.15M0,-1.15V1.15","square"]}, "legend": null},
                "stroke": {"field": "spec", "type": "nominal", "scale": {"domain": ["Baseline (age 30)","Age 25","Age 35","Age 40","Age 50"], "range": ["#1b9e77","#d95f02","#7570b3","#e7298a","#66a61e"]}, "legend": null}}}
 ]
},
{"title": "USA", "width": 215, "height": 279,
 "transform": [{"filter": "datum.country === 'USA'"}],
 "encoding": {
  "x": {"field": "year", "type": "quantitative", "scale": {"domain": [1941.7, 1995.5], "nice": false, "zero": false}, "axis": {"values": [1950,1960,1970,1980,1990], "format": "d", "labelAngle": -45, "title": null, "grid": false, "tickSize": 5, "labelPadding": 2}},
  "y": {"field": "rate", "type": "quantitative", "scale": {"domain": [38.5, 89.9], "nice": false, "zero": false}, "axis": {"values": [40,45,50,55,60,65,70,75,80,85], "title": null, "grid": true, "labels": false, "ticks": false}},
  "color": {"field": "spec", "type": "nominal", "scale": {"domain": ["Baseline (age 30)","Age 25","Age 35","Age 40","Age 50"], "range": ["#1b9e77","#d95f02","#7570b3","#e7298a","#66a61e"]}, "legend": {"title": "Specification", "orient": "none", "legendX": 687, "legendY": 392, "padding": 11, "strokeColor": "#222", "fillColor": "white", "titleFontSize": 18, "titleFontWeight": "normal", "titleColor": "#1a1a1a", "titlePadding": 9, "labelFontSize": 16, "labelColor": "#1a1a1a", "symbolOffset": 14, "labelOffset": 17, "rowPadding": 8.5, "symbolSize": 110, "symbolStrokeWidth": 1.6}}
 },
 "layer": [
  {"mark": {"type": "line", "strokeWidth": 1.6}, "encoding": {}},
  {"mark": {"type": "point", "filled": true, "size": 90, "opacity": 0.6, "strokeWidth": 1.5},
   "encoding": {"shape": {"field": "spec", "type": "nominal", "scale": {"domain": ["Baseline (age 30)","Age 25","Age 35","Age 40","Age 50"], "range": ["circle","triangle-up","square","M-1.15,0H1.15M0,-1.15V1.15","square"]}, "legend": null},
                "stroke": {"field": "spec", "type": "nominal", "scale": {"domain": ["Baseline (age 30)","Age 25","Age 35","Age 40","Age 50"], "range": ["#1b9e77","#d95f02","#7570b3","#e7298a","#66a61e"]}, "legend": null}}}
 ]
}
]
},
{
"spacing": 20, "align": "none",
"vconcat": [
{"title": "Norway", "width": 211, "height": 279,
 "transform": [{"filter": "datum.country === 'Norway'"}],
 "encoding": {
  "x": {"field": "year", "type": "quantitative", "scale": {"domain": [1941.7, 1994.45], "nice": false, "zero": false}, "axis": {"values": [1950,1960,1970,1980,1990], "format": "d", "labelAngle": -45, "title": null, "grid": false, "tickSize": 5, "labelPadding": 2}},
  "y": {"field": "rate", "type": "quantitative", "scale": {"domain": [38.5, 89.9], "nice": false, "zero": false}, "axis": {"values": [40,45,50,55,60,65,70,75,80,85], "title": null, "grid": true, "labels": false, "ticks": false}},
  "color": {"field": "spec", "type": "nominal", "scale": {"domain": ["Baseline (age 30)","Age 25","Age 35","Age 40","Age 50"], "range": ["#1b9e77","#d95f02","#7570b3","#e7298a","#66a61e"]}, "legend": {"title": "Specification", "orient": "none", "legendX": 687, "legendY": 392, "padding": 11, "strokeColor": "#222", "fillColor": "white", "titleFontSize": 18, "titleFontWeight": "normal", "titleColor": "#1a1a1a", "titlePadding": 9, "labelFontSize": 16, "labelColor": "#1a1a1a", "symbolOffset": 14, "labelOffset": 17, "rowPadding": 8.5, "symbolSize": 110, "symbolStrokeWidth": 1.6}}
 },
 "layer": [
  {"mark": {"type": "line", "strokeWidth": 1.6}, "encoding": {}},
  {"mark": {"type": "point", "filled": true, "size": 90, "opacity": 0.6, "strokeWidth": 1.5},
   "encoding": {"shape": {"field": "spec", "type": "nominal", "scale": {"domain": ["Baseline (age 30)","Age 25","Age 35","Age 40","Age 50"], "range": ["circle","triangle-up","square","M-1.15,0H1.15M0,-1.15V1.15","square"]}, "legend": null},
                "stroke": {"field": "spec", "type": "nominal", "scale": {"domain": ["Baseline (age 30)","Age 25","Age 35","Age 40","Age 50"], "range": ["#1b9e77","#d95f02","#7570b3","#e7298a","#66a61e"]}, "legend": null}}}
 ]
}
]
}
],
"config": {
 "font": "Liberation Sans",
 "view": {"stroke": null},
 "axis": {"domainColor": "#222", "domainWidth": 1.1, "tickColor": "#222", "tickWidth": 1.1, "labelColor": "#222", "labelFontSize": 15, "gridColor": "#d6d6d6", "gridWidth": 1.3},
 "title": {"fontSize": 20, "fontWeight": "normal", "color": "#1a1a1a", "offset": 5}
}
}
